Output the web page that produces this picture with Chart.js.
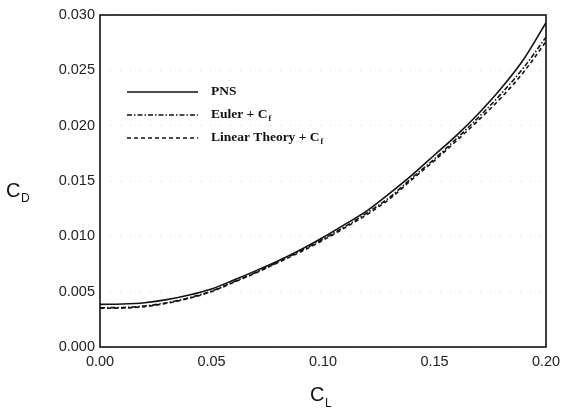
<!DOCTYPE html>
<html lang="en">
<head>
  <meta charset="UTF-8" />
  <title>CD vs CL</title>
  <style>
    html, body {
      margin: 0;
      padding: 0;
      background-color: white;
    }
    #chart-container {
      width: 562px;
      height: 409px;
      position: relative;
    }
  </style>
  <script src="https://cdn.jsdelivr.net/npm/chart.js"></script>
</head>
<body>
  <div id="chart-container">
    <canvas id="chart"></canvas>
  </div>

  <script>
    // lift coefficient (x) and drag coefficient (y)
    const cl = [0.00, 0.01, 0.02, 0.03, 0.04, 0.05, 0.06, 0.07, 0.08, 0.09, 0.10,
                0.11, 0.12, 0.13, 0.14, 0.15, 0.16, 0.17, 0.18, 0.19, 0.20];
    const cdPNS = [0.00385, 0.00388, 0.00400, 0.00428, 0.00470, 0.00525, 0.00605, 0.00690,
                   0.00780, 0.00880, 0.00990, 0.01110, 0.01235, 0.01390, 0.01555, 0.01735,
                   0.01915, 0.02115, 0.02340, 0.02600, 0.02930];
    const cdEuler = [0.00355, 0.00357, 0.00370, 0.00400, 0.00445, 0.00505, 0.00590, 0.00675,
                     0.00770, 0.00870, 0.00975, 0.01090, 0.01215, 0.01355, 0.01530, 0.01700,
                     0.01885, 0.02080, 0.02290, 0.02525, 0.02800];
    const cdLinear = [0.00350, 0.00352, 0.00365, 0.00395, 0.00440, 0.00500, 0.00585, 0.00670,
                      0.00765, 0.00860, 0.00965, 0.01080, 0.01200, 0.01340, 0.01515, 0.01685,
                      0.01865, 0.02055, 0.02255, 0.02485, 0.02760];

    const yTicks = [0.000, 0.005, 0.010, 0.015, 0.020, 0.025, 0.030];
    const xTicks = [0.00, 0.05, 0.10, 0.15, 0.20];

    const legendItems = [
      { text: 'PNS', sub: '', dash: [] },
      { text: 'Euler + C', sub: 'f', dash: [5, 2, 1.5, 2] },
      { text: 'Linear Theory + C', sub: 'f', dash: [4, 3] }
    ];

    function toPoints(ys) {
      return cl.map((x, i) => ({ x: x, y: ys[i] }));
    }

    // frame, legend and axis titles with subscripts
    const decorPlugin = {
      id: 'decorPlugin',
      afterDraw: (chart) => {
        const ctx = chart.ctx;
        const a = chart.chartArea;
        ctx.save();

        ctx.strokeStyle = '#111';
        ctx.lineWidth = 1.6;
        ctx.setLineDash([]);
        ctx.strokeRect(a.left, a.top, a.right - a.left, a.bottom - a.top);

        // legend
        ctx.fillStyle = '#111';
        legendItems.forEach((item, i) => {
          const y = a.top + 77 + i * 23;
          ctx.beginPath();
          ctx.setLineDash(item.dash);
          ctx.lineWidth = 1.3;
          ctx.moveTo(a.left + 27, y);
          ctx.lineTo(a.left + 98, y);
          ctx.stroke();
          ctx.setLineDash([]);
          ctx.font = 'bold 13.5px "Liberation Serif"';
          ctx.textBaseline = 'middle';
          ctx.textAlign = 'left';
          ctx.fillText(item.text, a.left + 111, y);
          if (item.sub) {
            const w = ctx.measureText(item.text).width;
            ctx.font = 'bold 8px "Liberation Serif"';
            ctx.fillText(item.sub, a.left + 111 + w + 1, y + 4);
          }
        });

        // axis titles
        ctx.textBaseline = 'alphabetic';
        ctx.textAlign = 'left';
        ctx.font = '20px "Liberation Sans"';
        ctx.fillText('C', 6, 197);
        ctx.font = '12px "Liberation Sans"';
        ctx.fillText('D', 21, 202);

        const cx = (a.left + a.right) / 2;
        ctx.font = '20px "Liberation Sans"';
        ctx.fillText('C', cx - 13, 401);
        ctx.font = '12px "Liberation Sans"';
        ctx.fillText('L', cx + 2, 407);

        ctx.restore();
      }
    };

    const lineStyle = {
      borderColor: '#111',
      borderWidth: 1.6,
      pointRadius: 0,
      fill: false,
      cubicInterpolationMode: 'monotone'
    };

    const ctx = document.getElementById('chart').getContext('2d');
    new Chart(ctx, {
      type: 'line',
      data: {
        datasets: [
          Object.assign({ label: 'PNS', data: toPoints(cdPNS), borderDash: [] }, lineStyle),
          Object.assign({ label: 'Euler + Cf', data: toPoints(cdEuler), borderDash: [5, 2, 1.5, 2] }, lineStyle),
          Object.assign({ label: 'Linear Theory + Cf', data: toPoints(cdLinear), borderDash: [4, 3] }, lineStyle)
        ]
      },
      options: {
        responsive: true,
        maintainAspectRatio: false,
        animation: false,
        layout: { padding: { top: 15, right: 16, left: 0, bottom: 0 } },
        plugins: {
          legend: { display: false },
          tooltip: { enabled: false }
        },
        scales: {
          x: {
            type: 'linear',
            min: 0,
            max: 0.2,
            afterBuildTicks: (scale) => { scale.ticks = xTicks.map(v => ({ value: v })); },
            afterFit: (scale) => {
              scale.height = 62;
              scale.paddingLeft = 0;
              scale.paddingRight = 0;
            },
            ticks: {
              callback: v => v.toFixed(2),
              color: '#222',
              font: { family: '"Liberation Sans"', size: 14.5 },
              padding: 6,
              maxRotation: 0
            },
            grid: { display: false, drawTicks: false },
            border: { display: false }
          },
          y: {
            type: 'linear',
            min: 0,
            max: 0.03,
            afterBuildTicks: (scale) => { scale.ticks = yTicks.map(v => ({ value: v })); },
            afterFit: (scale) => {
              scale.width = 100;
              scale.paddingTop = 0;
              scale.paddingBottom = 0;
            },
            ticks: {
              callback: v => v.toFixed(3),
              color: '#222',
              font: { family: '"Liberation Sans"', size: 14.5 },
              padding: 5
            },
            grid: {
              drawTicks: false,
              color: '#d6d6d6',
              lineWidth: 1
            },
            border: { display: false, dash: [1, 9] }
          }
        }
      },
      plugins: [decorPlugin]
    });
  </script>
</body>
</html>
